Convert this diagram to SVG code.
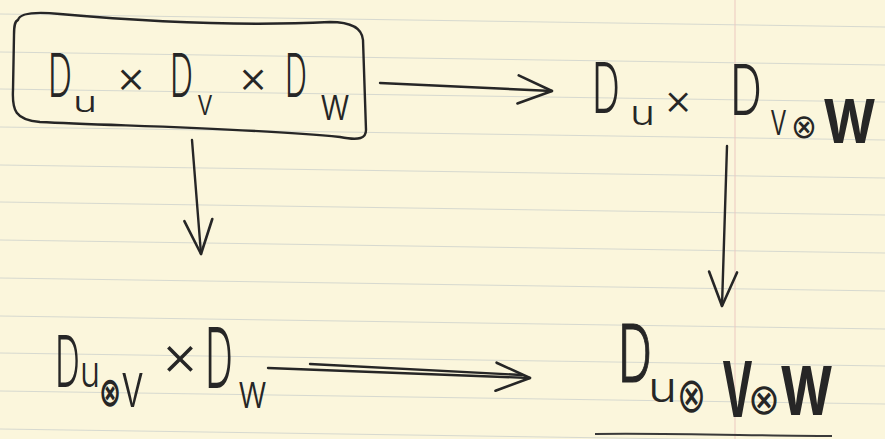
<svg xmlns="http://www.w3.org/2000/svg" width="885" height="439" viewBox="0 0 885 439">
<style>
.ink{fill:#262626;font-family:Inter,"Liberation Sans",sans-serif;font-weight:300}
.sym{font-family:"DejaVu Sans",sans-serif;font-weight:400}
.bold{font-weight:700}
.rule{stroke:#cbd0cc;stroke-width:1;opacity:0.75}
.pen{fill:none;stroke:#262626;stroke-width:2.4;stroke-linecap:round;stroke-linejoin:round}
</style>
<defs>
<marker id="ah" viewBox="-40 -20 46 40" refX="0" refY="0" markerWidth="46" markerHeight="40" markerUnits="userSpaceOnUse" orient="auto">
<path d="M -34 -14 L 0 0 L -34 14" fill="none" stroke="#262626" stroke-width="2.6" stroke-linecap="round" stroke-linejoin="round"/>
</marker>
</defs>
<rect width="885" height="439" fill="#fbf6dc"/>
<g id="paper">
<line class="rule" x1="0" y1="14" x2="885" y2="27"/>
<line class="rule" x1="0" y1="52" x2="885" y2="65"/>
<line class="rule" x1="0" y1="89" x2="885" y2="102"/>
<line class="rule" x1="0" y1="127" x2="885" y2="140"/>
<line class="rule" x1="0" y1="165" x2="885" y2="178"/>
<line class="rule" x1="0" y1="202" x2="885" y2="215"/>
<line class="rule" x1="0" y1="240" x2="885" y2="253"/>
<line class="rule" x1="0" y1="278" x2="885" y2="291"/>
<line class="rule" x1="0" y1="316" x2="885" y2="329"/>
<line class="rule" x1="0" y1="353" x2="885" y2="366"/>
<line class="rule" x1="0" y1="391" x2="885" y2="404"/>
<line class="rule" x1="0" y1="429" x2="885" y2="442"/>
<line x1="735" y1="0" x2="735" y2="439" stroke="#ecc9c0" stroke-width="1"/>
</g>
<g id="connectors">
<path class="pen" d="M 380 83 L 552 91" marker-end="url(#ah)"/>
<path class="pen" d="M 192 140 L 201 254" marker-end="url(#ah)"/>
<path class="pen" d="M 727 146 L 722 306" marker-end="url(#ah)"/>
<path class="pen" d="M 268 368 L 530 378" marker-end="url(#ah)"/>
<path class="pen" d="M 310 364 L 522 375"/>
</g>
<g id="node-uvw">
<path class="pen" stroke-width="2.6" d="M 18 20 C 20 12 40 12 60 14 C 150 22 250 26 330 22 C 350 22 362 28 363 40 L 366 130 C 366 138 360 141 340 137 C 250 128 120 126 40 122 C 15 120 12 110 13 90 L 14 35 C 14 25 15 21 18 20 Z"/>
<text class="ink"><tspan x="48" y="97" font-size="61" textLength="24" lengthAdjust="spacingAndGlyphs">D</tspan><tspan x="73" y="112" font-size="29" textLength="24" lengthAdjust="spacingAndGlyphs">u</tspan><tspan x="131" y="93" font-size="46" text-anchor="middle">×</tspan><tspan x="170" y="97" font-size="61" textLength="23" lengthAdjust="spacingAndGlyphs">D</tspan><tspan x="197" y="115" font-size="36" textLength="16" lengthAdjust="spacingAndGlyphs">v</tspan><tspan x="253" y="93" font-size="46" text-anchor="middle">×</tspan><tspan x="285" y="97" font-size="61" textLength="22" lengthAdjust="spacingAndGlyphs">D</tspan><tspan x="320" y="120" font-size="45" textLength="30" lengthAdjust="spacingAndGlyphs">w</tspan></text>
</g>
<g id="node-u-vw">
<text class="ink"><tspan x="592" y="113" font-size="70" textLength="28" lengthAdjust="spacingAndGlyphs">D</tspan><tspan x="630" y="125" font-size="35" textLength="25" lengthAdjust="spacingAndGlyphs">u</tspan><tspan x="678" y="115" font-size="44" text-anchor="middle">×</tspan><tspan x="730" y="115" font-size="70" textLength="32" lengthAdjust="spacingAndGlyphs">D</tspan><tspan x="770" y="135" font-size="46" textLength="17" lengthAdjust="spacingAndGlyphs">v</tspan><tspan class="sym" x="791" y="138" font-size="34" textLength="26" lengthAdjust="spacingAndGlyphs">⊗</tspan><tspan class="bold" x="823" y="143" font-size="60" textLength="53" lengthAdjust="spacingAndGlyphs">W</tspan></text>
</g>
<g id="node-uv-w">
<text class="ink"><tspan x="55" y="387" font-size="72" textLength="25" lengthAdjust="spacingAndGlyphs">D</tspan><tspan x="80" y="387" font-size="44" textLength="20" lengthAdjust="spacingAndGlyphs">u</tspan><tspan class="sym bold" x="99" y="406" font-size="41" textLength="22" lengthAdjust="spacingAndGlyphs">⊗</tspan><tspan x="121" y="407" font-size="62" textLength="23" lengthAdjust="spacingAndGlyphs">v</tspan><tspan x="180" y="375" font-size="58" text-anchor="middle">×</tspan><tspan x="205" y="388" font-size="84" textLength="28" lengthAdjust="spacingAndGlyphs">D</tspan><tspan x="238" y="408" font-size="48" textLength="29" lengthAdjust="spacingAndGlyphs">w</tspan></text>
</g>
<g id="node-uvw-tensor">
<text class="ink"><tspan x="618" y="382" font-size="80" textLength="34" lengthAdjust="spacingAndGlyphs" stroke="#262626" stroke-width="1.2">D</tspan><tspan x="648" y="402" font-size="42" textLength="29" lengthAdjust="spacingAndGlyphs">u</tspan><tspan class="sym" x="677" y="412" font-size="49" textLength="29" lengthAdjust="spacingAndGlyphs">⊗</tspan><tspan class="bold" x="722" y="417" font-size="77" textLength="31" lengthAdjust="spacingAndGlyphs">V</tspan><tspan class="sym" x="748" y="414" font-size="43" textLength="32" lengthAdjust="spacingAndGlyphs">⊗</tspan><tspan class="bold" x="780" y="415" font-size="67" textLength="53" lengthAdjust="spacingAndGlyphs">W</tspan></text>
<path d="M 595 434 C 680 433 760 436 832 436" fill="none" stroke="#3a3a3a" stroke-width="2"/>
</g>
</svg>
